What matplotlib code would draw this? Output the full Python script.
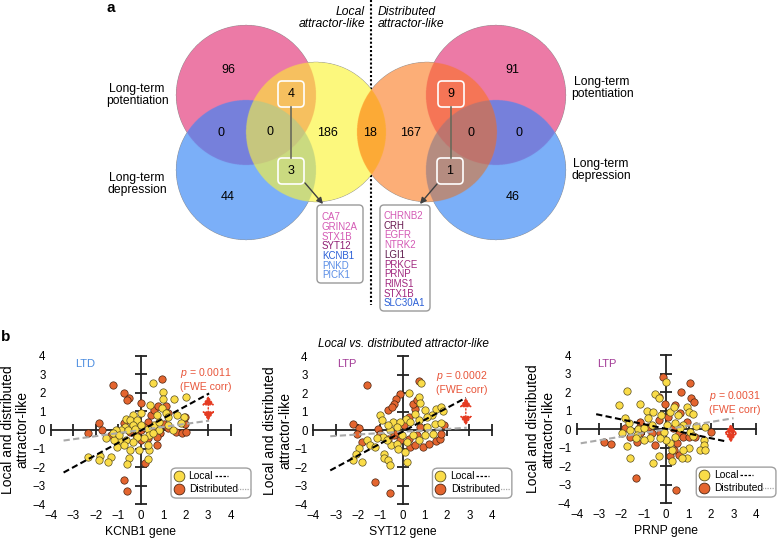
import numpy as np
import matplotlib
matplotlib.use('Agg')
import matplotlib.pyplot as plt
import matplotlib.colors as mcolors
from matplotlib.patches import FancyBboxPatch

plt.rcParams['font.family'] = ['Liberation Sans', 'DejaVu Sans']
plt.rcParams['mathtext.fontset'] = 'custom'
plt.rcParams['mathtext.it'] = 'Liberation Sans:italic'
plt.rcParams['mathtext.rm'] = 'Liberation Sans'

# ---------------- panel a: Venn counts ----------------
# order: LTP only, LTP&LTD, LTP&LTD&set, set only, LTP&set, LTD&set, LTD only
local_counts = [96, 0, 0, 186, 4, 3, 44]
dist_counts = [91, 0, 0, 167, 9, 1, 46]
shared_count = 18

genes_local = ['CA7', 'GRIN2A', 'STX1B', 'SYT12', 'KCNB1', 'PNKD', 'PICK1']
genes_local_col = ['#D45AB5', '#D45AB5', '#D45AB5', '#8E1F73', '#2A5FD6', '#5B8EE6', '#5B8EE6']
genes_dist = ['CHRNB2', 'CRH', 'EGFR', 'NTRK2', 'LGI1', 'PRKCE', 'PRNP', 'RIMS1', 'STX1B', 'SLC30A1']
genes_dist_col = ['#D45AB5', '#6B1A52', '#D45AB5', '#D45AB5', '#5E1A4C', '#A0287F', '#A0287F',
                  '#A0287F', '#A0287F', '#2A5FD6']

# ---------------- panel b: scatter data ----------------
kcnb1_local_x = [0.56, 0.98, 0.98, 1.48, 2.03, 0.39, 0.01, 0.93, 1.13, -0.37, -0.67, -0.47, -0.15, -0.37,
                 -0.71, -0.89, -1.11, -0.59, -0.27, 0.0, 0.33, 0.59, 0.82, 1.19, 1.59, 1.93, 1.78, 1.41,
                 0.79, 0.37, 0.15, -0.15, -0.37, -0.67, -0.96, -1.19, -1.56, -1.07, -0.74, -0.47, -0.07,
                 0.37, 0.30, -0.52, -0.62, 0.34, -1.34, -1.48, -1.81, -1.85, -2.37, -1.26, 1.19, 0.56,
                 0.74, -0.96]
kcnb1_local_y = [2.54, 2.03, 1.67, 1.65, 1.79, 1.34, 0.93, 1.16, 0.90, 0.79, 0.57, 0.54, 0.54, 0.27,
                 0.18, 0.0, 0.0, 0.0, 0.04, 0.27, 0.04, 0.27, 0.45, 0.72, 0.79, 0.72, 0.39, 0.0,
                 0.0, -0.27, -0.45, -0.39, -0.63, -0.54, -0.54, -0.54, -0.45, -0.90, -0.81, -1.08, -1.08,
                 -1.08, -0.81, -1.52, -1.85, -1.58, -1.43, -1.70, -1.40, -1.61, -1.43, -0.18, 0.27, -0.18,
                 0.81, -0.27]
kcnb1_dist_x = [-1.22, 0.93, -0.77, -0.52, -0.62, 0.0, -1.85, -2.37, -1.75, -1.34, -1.11, -0.74, -0.37,
                0.30, 0.45, 0.59, 0.77, 1.11, 1.19, 1.01, 0.86, 0.71, 0.74, 0.30, 0.0, -0.22, -0.47, 0.18,
                -0.74, -0.62, 1.56, 1.85, 2.0, 1.97, 1.96, 0.0, 0.59, 0.15, 1.19]
kcnb1_dist_y = [2.42, 2.72, 1.97, 1.74, 1.61, 1.47, 0.39, -0.14, 0.0, -0.27, -0.39, 0.36, 0.27,
                0.45, 0.81, 1.08, 1.29, 1.29, 0.90, 0.32, -0.18, -0.39, -0.81, -0.45, -0.54, -0.27, -0.09,
                -1.79, -2.69, -3.28, -0.09, -0.18, -0.09, 0.32, 0.72, 0.0, 0.0, 0.18, 0.09]

syt12_local_x = [0.28, 0.84, 0.72, 0.79, 1.02, 1.51, 1.72, 1.81, 1.32, 1.09, 0.54, 0.16, -1.03, -0.93,
                 -0.43, -0.13, 0.34, 0.72, -0.25, -0.58, -0.88, -1.15, -1.60, -1.45, -1.23, -1.93, -2.08,
                 -2.23, -1.82, -0.85, -0.82, -0.63, -0.55, -0.52, -0.25, 0.19, 0.12, 0.19, -0.03, 0.49,
                 0.72, 1.02, 1.36, 1.09, 1.46, 1.73, -0.63, -0.70, -0.18]
syt12_local_y = [1.99, 2.55, 1.80, 1.48, 1.08, 1.17, 1.23, 1.05, 0.81, 0.72, 0.90, 0.63, 0.81, 0.54,
                 0.45, 0.45, 0.45, 0.54, 0.18, 0.0, -0.36, -0.40, -0.54, -0.81, -0.90, -0.94, -1.26,
                 -1.62, -1.71, -1.26, -1.48, -1.59, -1.90, -0.81, -0.72, -0.63, -1.17, -1.71, -0.27, -0.27,
                 -0.54, -0.27, -0.18, 0.18, 0.36, 0.40, 0.27, -0.54, -0.99]
syt12_dist_x = [-1.57, 0.76, -0.13, -0.28, -0.40, -0.67, -0.48, -2.23, -1.97, -2.05, -1.82, -1.12, -1.0,
                -0.63, -0.40, -0.10, 0.27, 0.34, 0.57, 0.91, 1.17, 1.51, 1.69, 1.73, 1.84, 0.57, 0.49,
                0.67, 0.31, 0.07, 0.79, -1.23, -0.55, -0.25, 0.67]
syt12_dist_y = [2.44, 2.67, 1.95, 1.71, 1.44, 1.08, 1.26, 0.36, 0.14, -0.18, -0.63, 0.09, -0.18,
                -0.45, -0.27, -0.54, -0.45, -0.90, -0.81, -0.90, -0.72, -0.58, -0.45, -0.18, 0.27, 1.17, 1.44,
                1.62, 0.72, 0.27, 0.18, -2.80, -3.39, -0.09, -0.27]

prnp_local_x = [-0.03, -1.73, -2.09, -1.19, -0.51, -0.33, -0.86, -0.57, -0.24, 0.18, 0.33, 0.51, 0.95,
                1.0, 1.22, -1.86, -1.68, -1.64, -1.98, -1.28, -1.31, -0.97, -0.64, 0.03, 0.40, 0.75, 1.34,
                1.74, 1.07, 1.22, 1.67, 1.70, 1.49, 1.74, 1.0, 0.77, 0.92, 0.70, 0.25, 0.15, 0.0, -0.27,
                -0.12, -0.72, -1.01, -1.34, -1.76, -1.64, -0.57, -0.34, 0.25, 0.40, 0.63, -0.83]
prnp_local_y = [2.57, 2.07, 1.28, 1.37, 1.89, 1.67, 0.99, 0.90, 0.77, 0.95, 1.22, 0.77, 1.22,
                0.95, 0.83, 0.59, 0.32, -0.04, -0.22, 0.0, -0.31, 0.05, 0.23, 0.23, 0.32, 0.23, 0.18,
                0.14, -0.13, -0.36, -0.58, -0.85, -1.12, -1.12, -1.03, -1.12, -1.56, -1.56, -1.12, -0.76,
                -0.58, -0.49, -0.13, -0.49, -0.58, -0.49, -0.90, -1.56, -1.80, -1.44, -1.74, -0.40, 0.04, 0.59]
prnp_dist_x = [-0.15, 1.07, 0.67, 1.10, 1.25, -0.30, -0.07, 0.40, 0.63, -0.34, -0.83, -1.16, -1.61, -1.31,
               -2.77, -2.47, -1.86, -1.22, -0.64, -0.27, 0.30, 0.55, 0.77, 0.48, 1.0, 1.30, -0.52, 0.18,
               0.36, 0.55, 2.0, -1.37, 0.43, 0.06, 0.92, -1.16]
prnp_dist_y = [2.79, 2.48, 2.0, 1.67, 1.49, 1.76, 1.35, 1.31, 0.86, 0.50, 0.14, 0.41, -0.43, -0.67,
               -0.67, -0.81, 0.05, 0.05, -0.22, -0.22, 0.05, -0.22, -0.43, -0.76, -0.43, -0.43, -0.85, -1.47,
               -1.12, -1.38, -0.13, -2.64, -3.27, 0.68, 0.41, -0.22]

# fitted lines: slope, intercept, x start, x end
kcnb1_fit_local = (0.657, -0.03, -3.44, 3.04)
kcnb1_fit_dist = (0.165, 0.0, -3.44, 3.04)
syt12_fit_local = (0.645, -0.08, -3.24, 2.84)
syt12_fit_dist = (0.075, -0.08, -3.24, 2.88)
prnp_fit_local = (-0.253, 0.016, -3.13, 2.71)
prnp_fit_dist = (0.198, -0.006, -3.82, 3.01)

p_values = ['0.0011', '0.0002', '0.0031']
tick_vals = [-4, -3, -2, -1, 0, 1, 2, 3, 4]

ltd_col = '#4A8CE0'
ltp_col = '#A23A96'
red = '#E53B22'
yellow = '#FADC48'
orange = '#E4652F'

fig = plt.figure(figsize=(7.8, 5.39), dpi=100)

# ================= panel a =================
av = fig.add_axes([0, 0, 1, 1])
av.axis('off')

centres = [(246, 95), (246, 170), (316, 132), (427, 132), (496, 95), (496, 170)]
R = 70
xs = np.linspace(170, 570, 1600)
ys = np.linspace(20, 245, 900)
X, Y = np.meshgrid(xs, ys)
code = np.zeros(X.shape, dtype=int)
for i, (cx, cy) in enumerate(centres):
    code |= (((X - cx) ** 2 + (Y - cy) ** 2) <= R ** 2).astype(int) << i

region_colors = {1: '#EC7AA6', 2: '#7BAFF8', 4: '#FDF97D', 3: '#7781DC', 5: '#F6C05F',
                 6: '#CBDA80', 7: '#C6C67E', 8: '#FCAE78', 12: '#FDAB37', 16: '#EC7AA6',
                 32: '#7BAFF8', 48: '#7781DC', 24: '#F57556', 40: '#B58C80', 56: '#BF746E'}
img = np.zeros(X.shape + (4,))
for c, col in region_colors.items():
    img[code == c] = mcolors.to_rgba(col)
av.imshow(img, extent=(170, 570, 245, 20), interpolation='antialiased', aspect='auto', zorder=2)
av.set_xlim(0, 780)
av.set_ylim(539, 0)

av.plot([371, 371], [0, 305], color='k', lw=1.5, ls=(0, (1, 1)), zorder=1)

fs = 8.7
num_pos_left = [(228, 70), (221, 133), (270, 132), (328, 133), (291, 94), (291, 171), (228, 197)]
num_pos_right = [(512, 70), (519, 133), (471, 133), (411, 133), (451, 94), (450, 171), (513, 197)]
for v, (x, y) in zip(local_counts, num_pos_left):
    av.text(x, y, str(v), ha='center', va='center', fontsize=9, zorder=5)
for v, (x, y) in zip(dist_counts, num_pos_right):
    av.text(x, y, str(v), ha='center', va='center', fontsize=9, zorder=5)
av.text(370, 133, str(shared_count), ha='center', va='center', fontsize=9, zorder=5)

for (x, y) in [num_pos_left[4], num_pos_left[5], num_pos_right[4], num_pos_right[5]]:
    av.add_patch(FancyBboxPatch((x - 13, y - 13), 26, 26, boxstyle='round,pad=0,rounding_size=4',
                                fc='none', ec='white', lw=1.2, zorder=4))
av.plot([291, 291], [107, 158], color='#6A6A5A', lw=1.2, zorder=4)
av.plot([451, 451], [107, 158], color='#6A6A5A', lw=1.2, zorder=4)
av.annotate('', xy=(323, 204), xytext=(305, 183),
            arrowprops=dict(arrowstyle='-|>', color='#404040', lw=1, mutation_scale=9,
                            shrinkA=0, shrinkB=0), zorder=5)
av.annotate('', xy=(420, 204), xytext=(437, 184),
            arrowprops=dict(arrowstyle='-|>', color='#404040', lw=1, mutation_scale=9,
                            shrinkA=0, shrinkB=0), zorder=5)

av.text(137, 95, 'Long-term\npotentiation', ha='center', va='center', fontsize=fs, linespacing=1.1)
av.text(137, 184, 'Long-term\ndepression', ha='center', va='center', fontsize=fs, linespacing=1.1)
av.text(602, 88, 'Long-term\npotentiation', ha='center', va='center', fontsize=fs, linespacing=1.1)
av.text(601, 170, 'Long-term\ndepression', ha='center', va='center', fontsize=fs, linespacing=1.1)
av.text(365, 18, 'Local\nattractor-like', ha='right', va='center', fontsize=fs,
        style='italic', linespacing=1.1)
av.text(378, 18, 'Distributed\nattractor-like', ha='left', va='center', fontsize=fs,
        style='italic', linespacing=1.1)

av.add_patch(FancyBboxPatch((317, 205), 46, 78, boxstyle='round,pad=0,rounding_size=4',
                            fc='white', ec='#9A9A9A', lw=1, zorder=3))
for k, (g, c) in enumerate(zip(genes_local, genes_local_col)):
    av.text(322, 217.3 + 9.65 * k, g, color=c, fontsize=7, ha='left', va='center', zorder=4)
av.add_patch(FancyBboxPatch((380, 205), 50, 106, boxstyle='round,pad=0,rounding_size=4',
                            fc='white', ec='#9A9A9A', lw=1, zorder=3))
for k, (g, c) in enumerate(zip(genes_dist, genes_dist_col)):
    av.text(384, 216 + 9.7 * k, g, color=c, fontsize=7, ha='left', va='center', zorder=4)

av.text(111, 8, 'a', fontsize=11, fontweight='bold', ha='center', va='center')
av.text(6, 337, 'b', fontsize=11, fontweight='bold', ha='center', va='center')
av.text(403, 344, 'Local vs. distributed attractor-like', fontsize=8.5, style='italic',
        ha='center', va='center')

# ================= panel b =================
panels = [
    dict(gene='KCNB1', tag='LTD', tag_col=ltd_col, lx=kcnb1_local_x, ly=kcnb1_local_y,
         dx=kcnb1_dist_x, dy=kcnb1_dist_y, fl=kcnb1_fit_local, fd=kcnb1_fit_dist,
         arrow=(3.0, 0.5, 1.83), p=p_values[0], pxy=(2.9, 2.75), tagxy=(-2.94, 3.55),
         box=(51, 355.7, 230.7, 504.3)),
    dict(gene='SYT12', tag='LTP', tag_col=ltp_col, lx=syt12_local_x, ly=syt12_local_y,
         dx=syt12_dist_x, dy=syt12_dist_y, fl=syt12_fit_local, fd=syt12_fit_dist,
         arrow=(2.84, 0.27, 1.75), p=p_values[1], pxy=(2.66, 2.62), tagxy=(-2.91, 3.57),
         box=(313.3, 356.2, 491.7, 504.3)),
    dict(gene='PRNP', tag='LTP', tag_col=ltp_col, lx=prnp_local_x, ly=prnp_local_y,
         dx=prnp_dist_x, dy=prnp_dist_y, fl=prnp_fit_local, fd=prnp_fit_dist,
         arrow=(2.89, -0.72, 0.29), p=p_values[2], pxy=(3.08, 1.45), tagxy=(-3.07, 3.52),
         box=(576.7, 355.0, 755.7, 503.3)),
]

W, H = 780.0, 539.0
for pn in panels:
    x0, yt, x1, yb = pn['box']
    ax = fig.add_axes([x0 / W, 1 - yb / H, (x1 - x0) / W, (yb - yt) / H])
    ax.patch.set_alpha(0)
    ax.set_xlim(-4, 4)
    ax.set_ylim(-4, 4)
    for s in ax.spines.values():
        s.set_visible(False)
    ax.set_xticks(tick_vals)
    ax.set_yticks(tick_vals)
    ax.tick_params(length=0, labelsize=8.3, pad=4)

    zeros = [0] * len(tick_vals)
    ax.plot(tick_vals, zeros, color='#222222', lw=1.3, marker='|', ms=8, mew=1.3,
            clip_on=False, zorder=1)
    ax.plot(zeros, tick_vals, color='#222222', lw=1.3, marker='_', ms=8, mew=1.3,
            clip_on=False, zorder=1)

    ax.scatter(pn['dx'], pn['dy'], s=28, c=orange, edgecolors='#4A2410', linewidths=0.5,
               zorder=2, clip_on=False)
    ax.scatter(pn['lx'], pn['ly'], s=28, c=yellow, edgecolors='#5A4E20', linewidths=0.5,
               zorder=2.5, clip_on=False)

    for (m, b, xa, xb), col in [(pn['fd'], '#A9A9A9'), (pn['fl'], 'black')]:
        xx = np.array([xa, xb])
        ax.plot(xx, m * xx + b, color=col, lw=1.5, ls=(0, (3, 1.6)), zorder=3,
                dash_capstyle='butt')

    xa_, ylo, yhi = pn['arrow']
    ax.annotate('', xy=(xa_, yhi), xytext=(xa_, ylo),
                arrowprops=dict(arrowstyle='<|-|>,head_length=0.45,head_width=0.3', color=red,
                                lw=1, ls=(0, (1, 1.5)), mutation_scale=12, shrinkA=0, shrinkB=0),
                zorder=4)
    ax.text(pn['pxy'][0], pn['pxy'][1], '$p$ = ' + pn['p'] + '\n(FWE corr)', color='#E8553A',
            fontsize=7.6, ha='center', va='center', linespacing=1.3)
    ax.text(pn['tagxy'][0], pn['tagxy'][1], pn['tag'], color=pn['tag_col'], fontsize=8,
            ha='left', va='center')

    ax.text(0.5, -0.185, pn['gene'] + ' gene', transform=ax.transAxes, fontsize=8.7,
            ha='center', va='center')
    ax.text(-0.2, 0.5, 'Local and distributed\nattractor-like', transform=ax.transAxes,
            fontsize=10, rotation=90, ha='center', va='center', linespacing=1.1)

    # legend box
    ax.add_patch(FancyBboxPatch((0.668, 0.042), 0.445, 0.202, transform=ax.transAxes,
                                boxstyle='round,pad=0,rounding_size=0.03', fc='white',
                                ec='#A0A0A0', lw=1, clip_on=False, zorder=5))
    ax.scatter([0.712], [0.192], s=60, c=yellow, edgecolors='#5A4E20', linewidths=0.6,
               transform=ax.transAxes, clip_on=False, zorder=6)
    ax.scatter([0.712], [0.101], s=60, c=orange, edgecolors='#4A2410', linewidths=0.6,
               transform=ax.transAxes, clip_on=False, zorder=6)
    ax.text(0.765, 0.192, 'Local', transform=ax.transAxes, fontsize=7.4, ha='left',
            va='center', zorder=6)
    ax.text(0.77, 0.101, 'Distributed', transform=ax.transAxes, fontsize=7.4, ha='left',
            va='center', zorder=6)
    ax.plot([0.913, 0.985], [0.192, 0.192], transform=ax.transAxes, color='black', lw=0.9,
            ls=(0, (2, 1.2)), clip_on=False, zorder=6)
    ax.plot([1.035, 1.107], [0.101, 0.101], transform=ax.transAxes, color='#A9A9A9', lw=0.9,
            ls=(0, (1, 1)), clip_on=False, zorder=6)

fig.savefig('out.png', dpi=100)
